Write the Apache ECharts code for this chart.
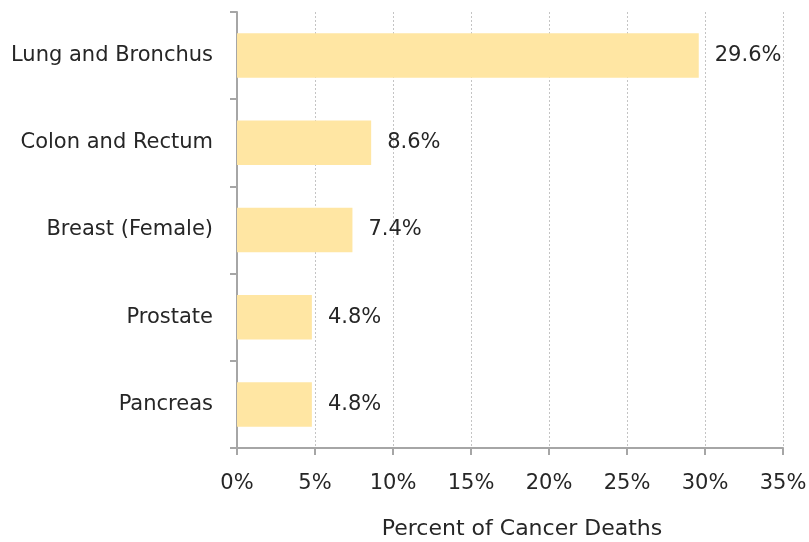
<!DOCTYPE html>
<html>
<head>
<meta charset="utf-8">
<script src="https://cdn.jsdelivr.net/npm/echarts@6/dist/echarts.min.js"></script>
<style>
  html, body { margin: 0; padding: 0; background: #fff; }
  #chart { width: 809px; height: 542px; }
</style>
</head>
<body>
<div id="chart"></div>
<script>
// data
const categories = ['Lung and Bronchus', 'Colon and Rectum', 'Breast (Female)', 'Prostate', 'Pancreas']
const deathShare = [29.6, 8.6, 7.4, 4.8, 4.8]

const axisGray = '#a6a6a6'
const textColor = '#262626'
const font = 'DejaVu Sans, sans-serif'
const fontSize = 21

const chart = echarts.init(document.getElementById('chart'))

chart.setOption({
  animation: false,
  grid: { left: 237, right: 26, top: 12, bottom: 94, outerBoundsMode: 'none', containLabel: false },
  xAxis: {
    type: 'value',
    min: 0,
    max: 35,
    interval: 5,
    name: 'Percent of Cancer Deaths',
    nameLocation: 'middle',
    nameGap: 70,
    nameTextStyle: { color: textColor, fontSize: 22, fontFamily: font, padding: [0, 0, 0, 24] },
    axisLine: { show: true, lineStyle: { color: axisGray, width: 2 } },
    axisTick: { show: true, length: 7, lineStyle: { color: axisGray, width: 2 } },
    axisLabel: { color: textColor, fontSize: fontSize, fontFamily: font, margin: 25, formatter: '{value}%' },
    splitLine: { show: true, lineStyle: { color: '#c4c4c4', type: [2, 2], width: 1 } }
  },
  yAxis: {
    type: 'category',
    inverse: true,
    data: categories,
    axisLine: { show: true, lineStyle: { color: axisGray, width: 2 } },
    axisTick: { show: true, length: 7, lineStyle: { color: axisGray, width: 2 } },
    axisLabel: { color: textColor, fontSize: fontSize, fontFamily: font, margin: 24, padding: [5, 0, 0, 0] }
  },
  series: [{
    type: 'bar',
    data: deathShare,
    barCategoryGap: '49%',
    itemStyle: { color: '#ffe6a3' },
    label: {
      show: true,
      position: 'right',
      distance: 16,
      color: textColor,
      fontSize: fontSize,
      fontFamily: font,
      padding: [5, 0, 0, 0],
      formatter: p => p.value.toFixed(1) + '%'
    }
  }]
})
</script>
</body>
</html>
